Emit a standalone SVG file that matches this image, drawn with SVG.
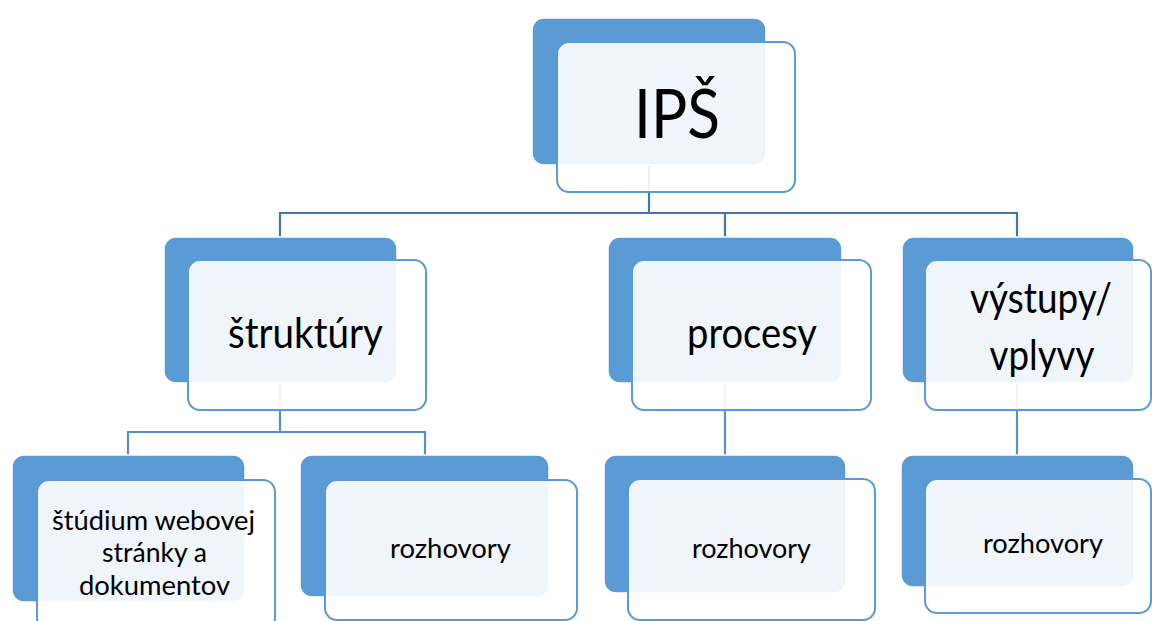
<svg xmlns="http://www.w3.org/2000/svg" width="1152" height="621" viewBox="0 0 1152 621">
  <style>
    .back { fill: #5B9BD5; stroke: #ffffff; stroke-width: 1.5; }
    .front { fill: #ffffff; fill-opacity: 0.9; stroke: #5B9BD5; stroke-width: 2; }
    .c1 { fill: none; stroke: #4675A9; stroke-width: 2.2; }
    .c2 { fill: none; stroke: #5A8EC8; stroke-width: 2.2; }
    text { font-family: Lato, "Liberation Sans", sans-serif; fill: #000000; text-anchor: middle; }
    .t0 { font-size: 68px; }
    .t1 { font-size: 43px; }
    .t2 { font-size: 26px; }
  </style>
  <rect width="1152" height="621" fill="#ffffff"/>
  <g id="connectors">
    <path class="c1" d="M649 100 V213 M280 237 V213 H1018 M725 213 V237 M1017 213 V237"/>
    <path class="c2" d="M280 330 V432 M128 455 V432 H425 V455"/>
    <path class="c2" d="M725 330 V455"/>
    <path class="c2" d="M1017 330 V455"/>
  </g>
  <g id="node-ips">
    <rect class="back" x="532" y="18" width="234" height="147" rx="12"/>
    <rect class="front" x="557" y="42" width="238" height="150" rx="12"/>
    <text class="t0" x="677" y="138" textLength="86" lengthAdjust="spacingAndGlyphs">IPŠ</text>
  </g>
  <g id="node-struktury">
    <rect class="back" x="164" y="237" width="233" height="146" rx="12"/>
    <rect class="front" x="188" y="260" width="238" height="150" rx="12"/>
    <text class="t1" x="305.5" y="348" textLength="155" lengthAdjust="spacingAndGlyphs">štruktúry</text>
  </g>
  <g id="node-procesy">
    <rect class="back" x="608" y="237" width="234" height="146" rx="12"/>
    <rect class="front" x="632" y="260" width="239" height="150" rx="12"/>
    <text class="t1" x="752" y="348" textLength="130" lengthAdjust="spacingAndGlyphs">procesy</text>
  </g>
  <g id="node-vystupy">
    <rect class="back" x="902" y="237" width="232" height="146" rx="12"/>
    <rect class="front" x="925" y="260" width="226" height="150" rx="12"/>
    <text class="t1" x="1041" y="313" textLength="142" lengthAdjust="spacingAndGlyphs">výstupy/</text>
    <text class="t1" x="1042" y="370" textLength="105" lengthAdjust="spacingAndGlyphs">vplyvy</text>
  </g>
  <g id="node-studium">
    <rect class="back" x="12" y="455" width="233" height="147" rx="12"/>
    <rect class="front" x="37" y="480" width="238" height="150" rx="12"/>
    <text class="t2" x="153.5" y="530" textLength="203" lengthAdjust="spacingAndGlyphs">štúdium webovej</text>
    <text class="t2" x="154.5" y="562" textLength="105" lengthAdjust="spacingAndGlyphs">stránky a</text>
    <text class="t2" x="154.5" y="595" textLength="151" lengthAdjust="spacingAndGlyphs">dokumentov</text>
  </g>
  <g id="node-rozhovory-1">
    <rect class="back" x="300" y="455" width="249" height="142" rx="12"/>
    <rect class="front" x="325" y="480" width="252" height="140" rx="12"/>
    <text class="t2" x="450.5" y="558" textLength="121" lengthAdjust="spacingAndGlyphs">rozhovory</text>
  </g>
  <g id="node-rozhovory-2">
    <rect class="back" x="604" y="455" width="242" height="138" rx="12"/>
    <rect class="front" x="628" y="479" width="247" height="141" rx="12"/>
    <text class="t2" x="751.5" y="558" textLength="119" lengthAdjust="spacingAndGlyphs">rozhovory</text>
  </g>
  <g id="node-rozhovory-3">
    <rect class="back" x="901" y="455" width="233" height="132" rx="12"/>
    <rect class="front" x="925" y="479" width="226" height="134" rx="12"/>
    <text class="t2" x="1043" y="553" textLength="120" lengthAdjust="spacingAndGlyphs">rozhovory</text>
  </g>
</svg>
